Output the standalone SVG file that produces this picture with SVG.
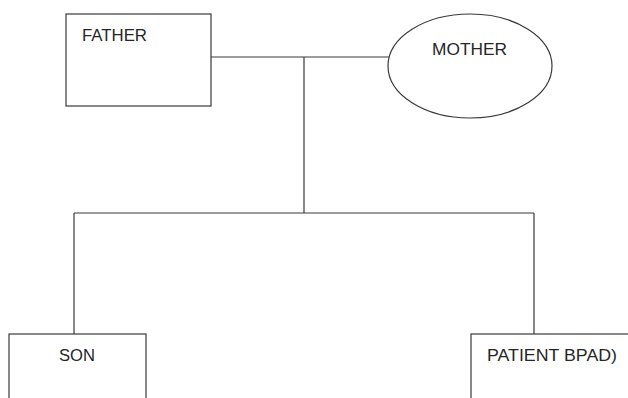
<svg xmlns="http://www.w3.org/2000/svg" width="628" height="398" viewBox="0 0 628 398">
<style>
.shape{fill:#fff;stroke:#3a3a3a;stroke-width:1.2}
.conn{fill:none;stroke:#3a3a3a;stroke-width:1.2}
.lbl{font-family:"Liberation Sans",Arial,sans-serif;font-size:16px;fill:#262626}
</style>
<rect width="628" height="398" fill="#fff"/>
<g id="connectors">
<line class="conn" x1="211" y1="57" x2="389" y2="57"/>
<line class="conn" x1="304" y1="57" x2="304" y2="213"/>
<line class="conn" x1="74" y1="213" x2="534" y2="213"/>
<line class="conn" x1="74" y1="213" x2="74" y2="334"/>
<line class="conn" x1="534" y1="213" x2="534" y2="334"/>
</g>
<g id="father">
<rect class="shape" x="66" y="14" width="145" height="92"/>
<text class="lbl" x="82" y="41" textLength="65" lengthAdjust="spacingAndGlyphs">FATHER</text>
</g>
<g id="mother">
<ellipse class="shape" cx="470" cy="66" rx="82" ry="52"/>
<text class="lbl" x="432" y="55" textLength="75" lengthAdjust="spacingAndGlyphs">MOTHER</text>
</g>
<g id="son">
<rect class="shape" x="9" y="334" width="137" height="80"/>
<text class="lbl" x="59" y="361" textLength="36" lengthAdjust="spacingAndGlyphs">SON</text>
</g>
<g id="patient">
<rect class="shape" x="471" y="334" width="180" height="80"/>
<text class="lbl" x="487" y="361" textLength="130" lengthAdjust="spacingAndGlyphs">PATIENT BPAD)</text>
</g>
</svg>
